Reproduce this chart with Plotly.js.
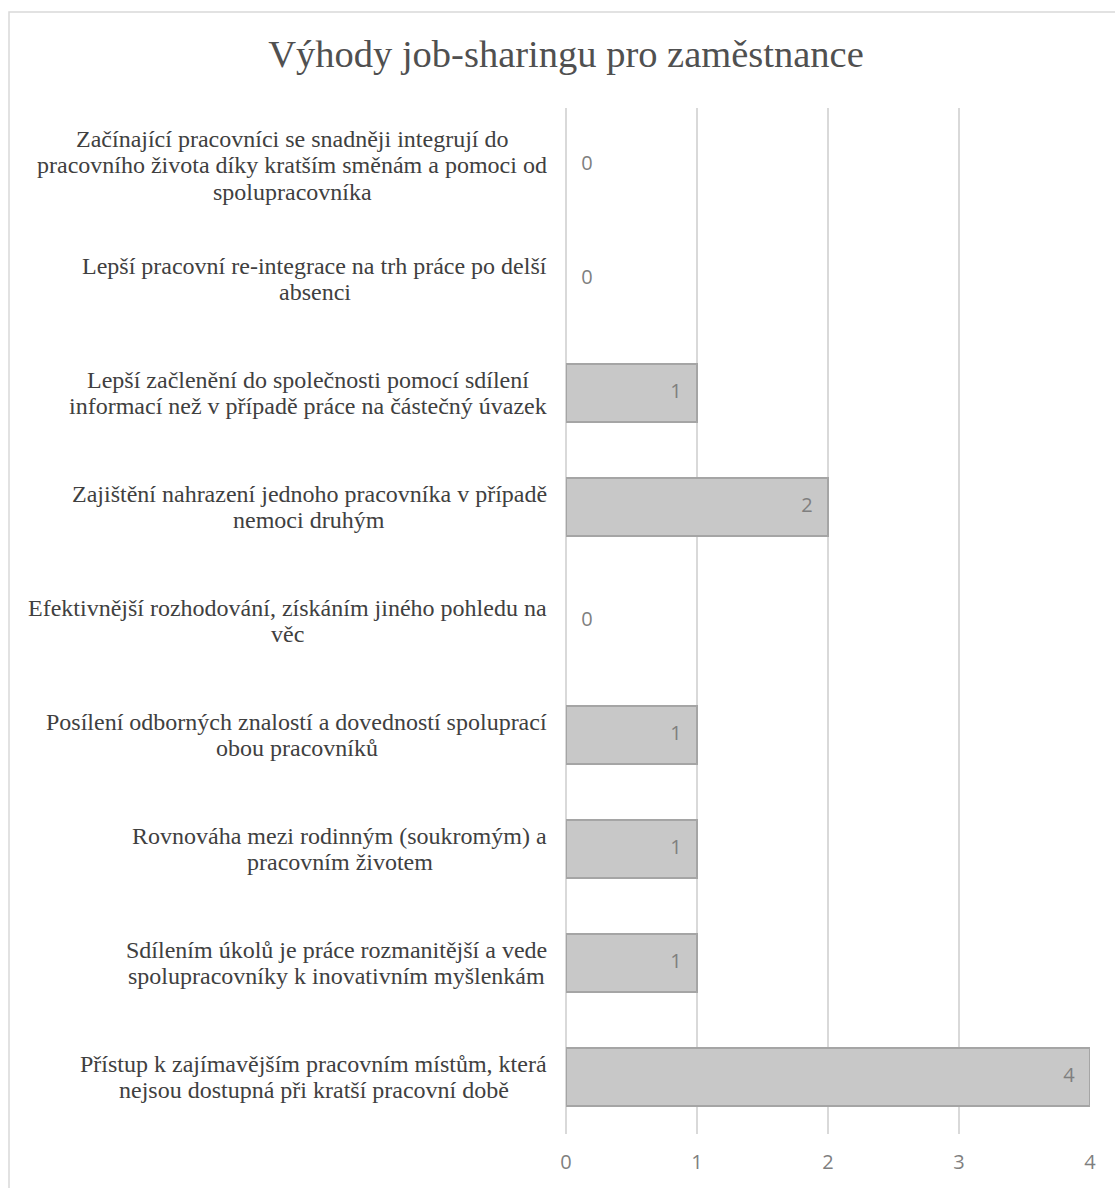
<!DOCTYPE html>
<html>
<head>
<meta charset="utf-8">
<script src="https://cdn.plot.ly/plotly-3.0.1.min.js"></script>
<style>
html, body { margin: 0; padding: 0; background: #ffffff; }
#chart { width: 1115px; height: 1188px; }
</style>
</head>
<body>
<div id="chart"></div>
<script>
// ---- data ----
const chartTitle = "Výhody job-sharingu pro zaměstnance";
const categories = [
  "Začínající pracovníci se snadněji integrují do<br>pracovního života díky kratším směnám a pomoci od<br>spolupracovníka",
  "Lepší pracovní re-integrace na trh práce po delší<br>absenci",
  "Lepší začlenění do společnosti pomocí sdílení<br>informací než v případě práce na částečný úvazek",
  "Zajištění nahrazení jednoho pracovníka v případě<br>nemoci druhým",
  "Efektivnější rozhodování, získáním jiného pohledu na<br>věc",
  "Posílení odborných znalostí a dovedností spoluprací<br>obou pracovníků",
  "Rovnováha mezi rodinným (soukromým) a<br>pracovním životem",
  "Sdílením úkolů je práce rozmanitější a vede<br>spolupracovníky k inovativním myšlenkám",
  "Přístup k zajímavějším pracovním místům, která<br>nejsou dostupná při kratší pracovní době"
];
const values = [0, 0, 1, 2, 0, 1, 1, 1, 4];
const xTicks = [0, 1, 2, 3, 4];

// ---- layout geometry (styling only) ----
const W = 1115, H = 1188;
const M = { l: 566, r: 25, t: 108, b: 54 };
const plotW = W - M.l - M.r;
const plotH = H - M.t - M.b;
const labelRight = 547;      // right edge of category label blocks (px)
const labelFont = "Liberation Serif";
const labelSize = 24;
const labelLineGap = 26.5;   // px between lines

function pxToPaperX(px) { return (px - M.l) / plotW; }
function pxToPaperY(py) { return (H - M.b - py) / plotH; }

const cv = document.createElement("canvas");
const ctx = cv.getContext("2d");
ctx.font = labelSize + "px '" + labelFont + "'";

const annotations = [];
categories.forEach(function (cat) {
  const lines = cat.split("<br>");
  const widths = lines.map(function (s) { return ctx.measureText(s).width; });
  const maxW = Math.max.apply(null, widths);
  const centerPx = labelRight - maxW / 2;
  const n = lines.length;
  lines.forEach(function (line, j) {
    annotations.push({
      xref: "paper", yref: "y",
      x: pxToPaperX(centerPx), y: cat,
      xanchor: "center", yanchor: "middle",
      yshift: ((n - 1) / 2 - j) * labelLineGap,
      text: line, showarrow: false,
      font: { family: labelFont + ", Times New Roman, serif", size: labelSize, color: "#404040" }
    });
  });
});

const numFont = { family: "Open Sans, sans-serif", size: 20, color: "#7f7f7f" };
const pad = "\u2002\u00a0";

const barTrace = {
  type: "bar",
  orientation: "h",
  x: values,
  y: categories,
  marker: {
    color: "#c8c8c8",
    line: { color: "#a5a5a5", width: values.map(function (v) { return v > 0 ? 2 : 0; }) }
  },
  hoverinfo: "skip"
};

const labelTrace = {
  type: "scatter",
  mode: "text",
  x: values,
  y: categories,
  text: values.map(function (v) { return v > 0 ? String(v) + pad : pad + String(v); }),
  textposition: values.map(function (v) { return v > 0 ? "middle left" : "middle right"; }),
  textfont: numFont,
  cliponaxis: false,
  hoverinfo: "skip"
};

const layout = {
  width: W, height: H,
  margin: M,
  paper_bgcolor: "#ffffff",
  plot_bgcolor: "#ffffff",
  showlegend: false,
  bargap: 0.49,
  title: {
    text: chartTitle,
    font: { family: "Liberation Serif, Times New Roman, serif", size: 38.5, color: "#505050" },
    x: 566 / W, xref: "container", xanchor: "center",
    y: 1 - 54 / H, yref: "container", yanchor: "middle"
  },
  xaxis: {
    range: [0, 4],
    tickvals: xTicks,
    ticktext: xTicks.map(String),
    showgrid: true, gridcolor: "#d9d9d9", gridwidth: 1.5,
    zeroline: true, zerolinecolor: "#d9d9d9", zerolinewidth: 1.5,
    showline: false, ticks: "",
    ticklabelstandoff: 14,
    tickfont: numFont,
    fixedrange: true
  },
  yaxis: {
    type: "category",
    autorange: "reversed",
    showticklabels: false,
    showgrid: false, zeroline: false, showline: false, ticks: "",
    fixedrange: true
  },
  annotations: annotations,
  shapes: [{
    type: "rect", layer: "below",
    xref: "paper", yref: "paper",
    x0: pxToPaperX(9), x1: pxToPaperX(1130),
    y0: pxToPaperY(1210), y1: pxToPaperY(12),
    line: { color: "#d9d9d9", width: 1.5 },
    fillcolor: "rgba(0,0,0,0)"
  }]
};

Plotly.newPlot("chart", [barTrace, labelTrace], layout, { displayModeBar: false, staticPlot: true });
</script>
</body>
</html>
